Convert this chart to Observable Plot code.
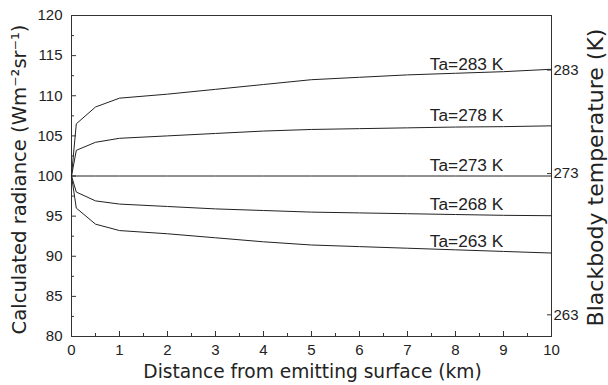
<!DOCTYPE html>
<html>
<head>
<meta charset="utf-8">
<script src="https://cdn.jsdelivr.net/npm/d3@7"></script>
<script src="https://cdn.jsdelivr.net/npm/@observablehq/plot@0.6"></script>
<style>
  html, body { margin: 0; padding: 0; background: #fff; }
</style>
</head>
<body>
<div id="chart"></div>
<script>
// Distances (km)
const distance = [0, 0.1, 0.5, 1, 2, 3, 4, 5, 6, 7, 8, 9, 10];
// Calculated radiance (W m-2 sr-1) per air temperature
const ta283 = [100, 106.5, 108.6, 109.7, 110.2, 110.8, 111.4, 112.0, 112.3, 112.6, 112.8, 113.0, 113.3];
const ta278 = [100, 103.2, 104.2, 104.7, 105.0, 105.3, 105.6, 105.8, 105.9, 106.0, 106.1, 106.15, 106.25];
const ta273 = [100, 100, 100, 100, 100, 100, 100, 100, 100, 100, 100, 100, 100];
const ta268 = [100, 98.0, 96.9, 96.5, 96.2, 95.9, 95.7, 95.5, 95.4, 95.3, 95.2, 95.1, 95.05];
const ta263 = [100, 96.0, 94.0, 93.2, 92.8, 92.3, 91.8, 91.4, 91.2, 91.0, 90.8, 90.6, 90.4];

const seriesNames = ["Ta=283 K", "Ta=278 K", "Ta=273 K", "Ta=268 K", "Ta=263 K"];
const seriesValues = [ta283, ta278, ta273, ta268, ta263];

// Curve label positions (distance km, radiance)
const labelX = [8.23, 8.23, 8.23, 8.23, 8.23];
const labelY = [113.96, 107.54, 101.35, 96.45, 91.9];

// Axis ticks
const yMajor = [80, 85, 90, 95, 100, 105, 110, 115, 120];
const yMinor = [82.5, 87.5, 92.5, 97.5, 102.5, 107.5, 112.5, 117.5];
const xMajor = [0, 1, 2, 3, 4, 5, 6, 7, 8, 9, 10];
const xMinor = [0.5, 1.5, 2.5, 3.5, 4.5, 5.5, 6.5, 7.5, 8.5, 9.5];
// Right axis: blackbody temperature ticks placed at equivalent radiance
const tempTickRadiance = [113.2, 100.3, 82.7];
const tempTickLabels = ["283", "273", "263"];

const xTitle = "Distance from emitting surface (km)";
const yTitle = "Calculated radiance (Wm\u207B\u00B2sr\u207B\u00B9)";
const y2Title = "Blackbody temperature (K)";

const rows = seriesNames.flatMap((name, i) =>
  distance.map((d, j) => ({series: name, distance: d, radiance: seriesValues[i][j]})));
const labels = seriesNames.map((name, i) => ({text: name, x: labelX[i], y: labelY[i]}));

const ink = "#222";
const numFont = "Liberation Sans";
const titleFont = "DejaVu Sans";

const chart = Plot.plot({
  width: 608,
  height: 385,
  marginLeft: 71,
  marginRight: 57,
  marginTop: 15,
  marginBottom: 49,
  x: {domain: [0, 10]},
  y: {domain: [80, 120]},
  style: {fontFamily: numFont, color: ink, background: "#fff"},
  marks: [
    Plot.frame({stroke: "#333", strokeWidth: 1}),
    // inward ticks
    Plot.tickY(yMajor, {y: d => d, stroke: "#333", insetRight: 475}),
    Plot.tickY(yMinor, {y: d => d, stroke: "#333", insetRight: 477}),
    Plot.tickX(xMajor, {x: d => d, stroke: "#333", insetTop: 316}),
    Plot.tickX(xMinor, {x: d => d, stroke: "#333", insetTop: 318}),
    Plot.tickY(tempTickRadiance, {y: d => d, stroke: "#333", insetLeft: 476}),
    // tick labels
    Plot.axisY({ticks: yMajor, tickSize: 0, tickPadding: 9, label: null, fontSize: 15, fill: ink}),
    Plot.axisX({ticks: xMajor, tickSize: 0, tickPadding: 8, label: null, fontSize: 15, fill: ink}),
    Plot.axisY({anchor: "right", ticks: tempTickRadiance, tickFormat: (d, i) => tempTickLabels[i],
      tickSize: 0, tickPadding: 2, label: null, fontSize: 15, fill: ink}),
    // curves
    Plot.line(rows, {x: "distance", y: "radiance", z: "series", stroke: ink, strokeWidth: 1}),
    // curve labels
    Plot.text(labels, {x: "x", y: "y", text: "text", fontSize: 17.3, fill: ink, lineAnchor: "middle"}),
    // axis titles
    Plot.text([xTitle], {text: d => d, frameAnchor: "bottom", textAnchor: "middle", lineAnchor: "middle", dy: 36, dx: 1,
      fontSize: 18.6, fontFamily: titleFont, fill: ink}),
    Plot.text([yTitle], {text: d => d, frameAnchor: "left", textAnchor: "middle", rotate: -90, lineAnchor: "middle", dx: -52, dy: 3.5,
      fontSize: 19.6, fontFamily: titleFont, fill: ink}),
    Plot.text([y2Title], {text: d => d, frameAnchor: "right", textAnchor: "middle", rotate: -90, lineAnchor: "middle", dx: 44, dy: 1.5,
      fontSize: 22, fontFamily: titleFont, fill: ink})
  ]
});
document.getElementById("chart").appendChild(chart);
</script>
</body>
</html>
